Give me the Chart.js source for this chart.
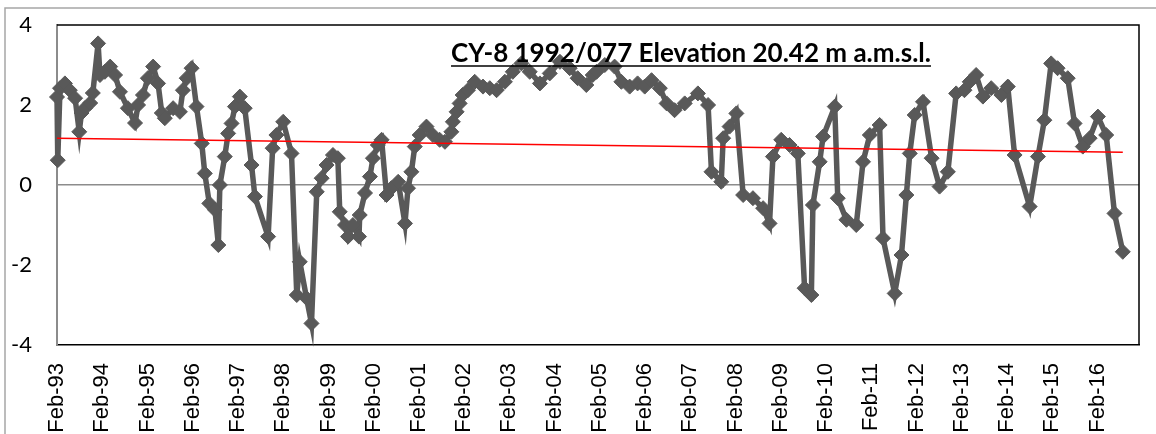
<!DOCTYPE html>
<html>
<head>
<meta charset="utf-8">
<script src="https://cdn.jsdelivr.net/npm/chart.js@4.4.1/dist/chart.umd.min.js"></script>
<style>
  html, body { margin: 0; padding: 0; background: #ffffff; overflow: hidden; }
  #wrap { width: 1156px; height: 450px; }
</style>
</head>
<body>
<div id="wrap"><canvas id="c" width="1156" height="450"></canvas></div>
<script>
// ---- DATA ----
// months since Feb-1993
const monthsSinceFeb93 = [
  0, 0.2, 0.8, 2.1, 3.4, 4.8, 5.9, 6.5, 7.4, 8.8, 9.5, 10.9, 11.4, 12.7, 14.1, 15.4, 16.7, 18.8, 20.7, 21.5,
  22.8, 24.1, 25.5, 26.8, 27.8, 28.6, 30.8, 32.6, 33.4, 34.4, 35.7, 37.0, 38.4, 39.2, 40.4, 41.9, 42.8, 43.2, 44.5, 45.4,
  46.3, 47.2, 48.5, 49.8, 51.6, 52.5, 56.0, 57.2, 58.2, 60.0, 62.2, 63.6, 64.4, 66.2, 67.5, 68.9, 70.2, 71.5, 73.2, 74.5,
  75.0, 76.4, 77.2, 78.5, 80.1, 80.3, 81.7, 83.0, 83.8, 85.1, 86.1, 87.4, 88.7, 90.5, 92.3, 93.1, 94.0, 94.9, 96.2, 98.0,
  99.7, 101.5, 102.9, 104.6, 105.0, 106.0, 106.8, 107.6, 109.0, 110.8, 113.0, 114.8, 116.6, 118.8, 120.9, 123.2, 125.4, 128.1, 130.7, 133.4,
  136.0, 138.1, 140.4, 142.1, 143.1, 145.3, 147.9, 149.7, 151.9, 154.0, 155.9, 157.7, 159.9, 161.7, 163.8, 166.5, 170.0, 172.7, 173.6, 176.2,
  176.7, 178.4, 180.2, 182.0, 184.6, 187.3, 189.0, 189.9, 192.1, 194.3, 196.5, 198.3, 200.1, 200.5, 202.3, 203.2, 206.3, 207.1, 209.4, 212.0,
  213.8, 215.6, 218.2, 219.1, 222.2, 224.0, 225.3, 226.2, 227.5, 229.7, 232.0, 234.1, 236.3, 238.5, 240.7, 242.1, 243.8, 245.6, 247.8, 250.5,
  252.2, 254.0, 258.0, 260.2, 261.9, 263.7, 265.4, 268.1, 269.9, 272.1, 273.9, 276.1, 278.3, 280.5, 282.7
];
const levels = [
  2.2, 0.62, 2.42, 2.54, 2.37, 2.17, 1.33, 1.8, 1.92, 2.05, 2.3, 3.54, 2.75, 2.83, 2.96, 2.75, 2.33, 1.92, 1.55, 2.0,
  2.25, 2.67, 2.96, 2.54, 1.8, 1.67, 1.92, 1.83, 2.37, 2.67, 2.92, 1.96, 1.04, 0.29, -0.46, -0.62, -1.5, 0.0, 0.71, 1.29,
  1.54, 1.96, 2.21, 1.92, 0.5, -0.29, -1.29, 0.92, 1.25, 1.58, 0.79, -2.75, -1.92, -2.83, -3.46, -0.17, 0.17, 0.5, 0.75, 0.67,
  -0.67, -1.0, -1.29, -1.0, -1.29, -0.75, -0.2, 0.21, 0.67, 1.0, 1.13, -0.25, -0.08, 0.08, -0.96, -0.08, 0.33, 0.96, 1.25, 1.46,
  1.25, 1.13, 1.08, 1.33, 1.58, 1.83, 2.04, 2.25, 2.37, 2.58, 2.46, 2.42, 2.37, 2.58, 2.83, 3.04, 2.83, 2.54, 2.79, 3.08,
  2.92, 2.67, 2.5, 2.75, 2.83, 3.0, 2.96, 2.58, 2.46, 2.54, 2.46, 2.62, 2.42, 2.04, 1.87, 2.04, 2.29, 2.0, 0.33, 0.08,
  1.17, 1.46, 1.79, -0.25, -0.33, -0.58, -0.96, 0.71, 1.13, 1.0, 0.79, -2.58, -2.75, -0.5, 0.58, 1.21, 1.96, -0.33, -0.87, -1.0,
  0.58, 1.25, 1.5, -1.33, -2.71, -1.75, -0.25, 0.79, 1.75, 2.08, 0.67, -0.04, 0.33, 2.29, 2.37, 2.58, 2.75, 2.21, 2.42, 2.25,
  2.46, 0.75, -0.54, 0.71, 1.62, 3.04, 2.92, 2.67, 1.54, 0.96, 1.17, 1.71, 1.25, -0.71, -1.67
];
// linear trend line end points (months, value)
const trendMonths = [0, 282.7];
const trendValues = [1.17, 0.82];
// x tick labels, one every 12 months from Feb-93
const xTickLabels = ['Feb-93','Feb-94','Feb-95','Feb-96','Feb-97','Feb-98','Feb-99','Feb-00','Feb-01','Feb-02','Feb-03','Feb-04',
  'Feb-05','Feb-06','Feb-07','Feb-08','Feb-09','Feb-10','Feb-11','Feb-12','Feb-13','Feb-14','Feb-15','Feb-16'];
const yTicks = [-4, -2, 0, 2, 4];
const chartTitle = 'CY-8 1992/077 Elevation 20.42 m a.m.s.l.';

// ---- CHART ----
const mainPoints = monthsSinceFeb93.map((m, i) => ({ x: m, y: levels[i] }));
const trendPoints = trendMonths.map((m, i) => ({ x: m, y: trendValues[i] }));

const framePlugin = {
  id: 'frame',
  beforeDraw(chart) {
    const ctx = chart.ctx;
    ctx.save();
    ctx.fillStyle = '#ffffff';
    ctx.fillRect(0, 0, chart.width, chart.height);
    ctx.strokeStyle = '#a6a6a6';
    ctx.lineWidth = 1.5;
    ctx.strokeRect(5, 8, chart.width + 50, chart.height + 50);
    ctx.restore();
  },
  beforeDatasetsDraw(chart) {
    const a = chart.chartArea;
    const ctx = chart.ctx;
    ctx.save();
    ctx.strokeStyle = '#000000';
    ctx.lineWidth = 1.5;
    ctx.beginPath();
    ctx.moveTo(a.left, a.top);
    ctx.lineTo(a.right, a.top);
    ctx.lineTo(a.right, a.bottom);
    ctx.stroke();
    ctx.restore();
  },
  afterDraw(chart) {
    const ctx = chart.ctx;
    ctx.save();
    let size = 22;
    ctx.font = 'bold ' + size + 'px Lato, "Noto Sans", sans-serif';
    const w0 = ctx.measureText(chartTitle).width;
    size = size * 480 / w0;
    ctx.font = 'bold ' + size + 'px Lato, "Noto Sans", sans-serif';
    const w = ctx.measureText(chartTitle).width;
    const cx = 691, base = 62;
    ctx.fillStyle = '#000000';
    ctx.textAlign = 'left';
    ctx.textBaseline = 'alphabetic';
    ctx.fillText(chartTitle, cx - w / 2, base);
    ctx.strokeStyle = '#000000';
    ctx.lineWidth = 1.5;
    ctx.beginPath();
    ctx.moveTo(cx - w / 2, base + 4);
    ctx.lineTo(cx + w / 2, base + 4);
    ctx.stroke();
    ctx.restore();
  }
};

new Chart(document.getElementById('c'), {
  type: 'line',
  data: {
    datasets: [
      {
        label: 'Trend',
        data: trendPoints,
        borderColor: '#ff0000',
        borderWidth: 1.5,
        pointRadius: 0,
        fill: false,
        order: 0
      },
      {
        label: 'CY-8',
        data: mainPoints,
        borderColor: '#595959',
        borderWidth: 5.5,
        pointStyle: 'rectRot',
        pointRadius: 7.5,
        pointBackgroundColor: '#595959',
        pointBorderColor: '#595959',
        pointBorderWidth: 1,
        tension: 0,
        fill: false,
        clip: false,
        order: 1
      }
    ]
  },
  options: {
    responsive: false,
    animation: false,
    layout: { autoPadding: false, padding: { left: 0, top: 25, right: 17, bottom: 0 } },
    plugins: { legend: { display: false }, tooltip: { enabled: false }, title: { display: false } },
    scales: {
      x: {
        type: 'linear',
        min: 0,
        max: 287,
        afterBuildTicks(scale) {
          scale.ticks = xTickLabels.map((_, i) => ({ value: i * 12 }));
        },
        afterFit(scale) { scale.height = 105; scale.paddingLeft = 0; scale.paddingRight = 0; },
        ticks: {
          autoSkip: false,
          maxRotation: 90,
          minRotation: 90,
          padding: 18,
          color: '#000000',
          font: { family: '"Liberation Sans", Arial, sans-serif', size: 22 },
          callback: (v) => xTickLabels[Math.round(v / 12)]
        },
        grid: { display: false, drawTicks: false },
        border: { display: true, color: '#000000', width: 1.5 }
      },
      y: {
        type: 'linear',
        min: -4,
        max: 4,
        afterBuildTicks(scale) {
          scale.ticks = yTicks.map(v => ({ value: v }));
        },
        afterFit(scale) { scale.width = 57; scale.paddingTop = 0; scale.paddingBottom = 0; },
        ticks: {
          padding: 25,
          color: '#000000',
          font: { family: 'Lato, "Noto Sans", sans-serif', size: 22 },
          callback: (v) => String(v)
        },
        grid: {
          drawTicks: false,
          color: (c) => (c.tick && c.tick.value === 0 ? '#8c8c8c' : 'rgba(0,0,0,0)'),
          lineWidth: 1.5
        },
        border: { display: true, color: '#8c8c8c', width: 2 }
      }
    }
  },
  plugins: [framePlugin]
});
</script>
</body>
</html>
